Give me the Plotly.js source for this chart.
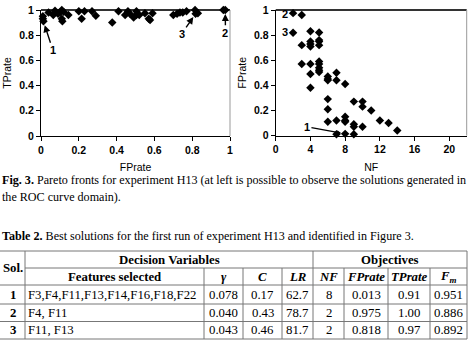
<!DOCTYPE html>
<html><head><meta charset="utf-8">
<script src="https://cdn.plot.ly/plotly-3.0.1.min.js"></script>
<style>html,body{margin:0;padding:0;background:#fff}#c{width:474px;height:361px}</style>
</head><body><div id="c"></div>
<script>
// ---- Data: left panel (ROC domain) ----
const fpLeft = [0.010,0.010,0.013,0.040,0.065,0.074,0.090,0.100,0.110,0.110,0.113,0.120,0.145,0.200,0.215,0.230,0.270,0.290,0.377,0.410,0.445,0.460,0.470,0.490,0.505,0.505,0.520,0.550,0.570,0.577,0.590,0.700,0.720,0.735,0.750,0.770,0.815,0.818,0.830,0.965,0.975];
const tpLeft = [0.950,0.930,0.910,0.980,0.960,0.995,0.970,0.980,1.000,0.930,0.910,0.985,0.960,0.990,0.930,0.990,0.990,0.955,0.900,0.990,0.960,0.990,0.970,0.940,0.990,0.960,0.960,0.975,0.930,0.920,0.975,0.960,0.970,0.980,0.980,0.990,1.000,0.970,0.975,1.000,1.000];
// ---- Data: right panel (NF vs FPrate) ----
const nfRight = [2,3,2,4,5,3,4,4,4,5,5,5,3,4,5,5,5,5,5,4,4,6,6,6,7,7,8,6,6,6,7,8,8,8,9,9,9,10,10,10,11,12,13,14,7,8,9];
const fpRight = [0.975,0.960,0.818,0.830,0.820,0.720,0.750,0.730,0.710,0.760,0.750,0.720,0.570,0.570,0.590,0.570,0.540,0.520,0.505,0.490,0.380,0.470,0.450,0.440,0.500,0.440,0.410,0.290,0.210,0.110,0.120,0.150,0.120,0.110,0.270,0.090,0.070,0.270,0.230,0.070,0.200,0.120,0.100,0.040,0.010,0.013,0.010];
// ---- Best solutions (Table 2) ----
const solIds   = ['1','2','3'];
const features = ['F3,F4,F11,F13,F14,F16,F18,F22','F4, F11','F11, F13'];
const gammaVals= [0.078,0.040,0.043];
const cVals    = [0.17,0.43,0.46];
const lrVals   = [62.7,78.7,81.7];
const nfVals   = [8,2,2];
const fprVals  = [0.013,0.975,0.818];
const tprVals  = [0.91,1.00,0.97];
const fmVals   = [0.951,0.886,0.892];
const groupHeaders = ['Decision Variables','Objectives'];
const colHeaders = ['Features selected','γ','C','LR','NF','FPrate','TPrate','F<sub>m</sub>'];

// ---- layout helpers ----
const W=474,H=361;
const px=x=>x/W, py=y=>1-y/H;
const SANS='Liberation Sans, Arial, sans-serif';
const SERIF='Liberation Serif, Times New Roman, serif';
const tickFont={family:SANS,size:10.5,color:'#000',weight:'bold'};
const titleFont={family:SANS,size:10.5,color:'#000'};
const lblFont={family:SANS,size:11,color:'#000',weight:'bold'};

const marker={symbol:'diamond',size:6.5,color:'#000'};
const traces=[
 {type:'scatter',mode:'markers',x:fpLeft,y:tpLeft,xaxis:'x',yaxis:'y',marker:marker,cliponaxis:false,hoverinfo:'skip'},
 {type:'scatter',mode:'markers',x:nfRight,y:fpRight,xaxis:'x2',yaxis:'y2',marker:marker,cliponaxis:false,hoverinfo:'skip'}
];

function axisBase(){return {showline:true,linecolor:'#000',linewidth:1,ticks:'outside',ticklen:4,tickcolor:'#000',
  tickfont:tickFont,showgrid:false,zeroline:false,fixedrange:true,automargin:false};}

const layout={
 width:W,height:H,margin:{l:0,r:0,t:0,b:0},paper_bgcolor:'#fff',plot_bgcolor:'#fff',showlegend:false,
 xaxis:Object.assign(axisBase(),{domain:[px(41),px(230)],range:[0,1],dtick:0.2,tick0:0,anchor:'y',
   title:{text:'FPrate',font:titleFont,standoff:9}}),
 yaxis:Object.assign(axisBase(),{domain:[py(136),py(10)],range:[0,1],dtick:0.2,tick0:0,anchor:'x',
   title:{text:'TPrate',font:titleFont,standoff:5}}),
 xaxis2:Object.assign(axisBase(),{domain:[px(275.7),px(466.7)],range:[0,22],dtick:4,tick0:0,anchor:'y2',
   title:{text:'NF',font:titleFont,standoff:9}}),
 yaxis2:Object.assign(axisBase(),{domain:[py(135.5),py(10)],range:[0,1],dtick:0.2,tick0:0,anchor:'x2',
   title:{text:'FPrate',font:titleFont,standoff:5}}),
 shapes:[],annotations:[]
};
// plot frames
[['x','y'],['x2','y2']].forEach(([a,b])=>{
 layout.shapes.push({type:'line',xref:a+' domain',yref:b+' domain',x0:0,x1:1,y0:1,y1:1,line:{color:'#333',width:2},layer:'below'});
 layout.shapes.push({type:'line',xref:a+' domain',yref:b+' domain',x0:1,x1:1,y0:0,y1:1,line:{color:'#999',width:1},layer:'below'});
});
// solution labels, left panel
const leftTails=[[0.063,0.68],[0.976,0.82],[0.744,0.81]];
for(let i=0;i<3;i++){
 layout.annotations.push({xref:'x',yref:'y',axref:'x',ayref:'y',x:fprVals[i],y:tprVals[i],ax:leftTails[i][0],ay:leftTails[i][1],
  text:solIds[i],font:lblFont,showarrow:true,arrowhead:2,arrowsize:1,arrowwidth:1.4,arrowcolor:'#000',standoff:4});
}
// solution labels, right panel
layout.annotations.push({xref:'x2',yref:'y2',axref:'x2',ayref:'y2',x:nfVals[0],y:fprVals[0],ax:3.6,ay:0.07,
  text:solIds[0],font:lblFont,showarrow:true,arrowhead:2,arrowsize:0.7,arrowwidth:1.2,arrowcolor:'#000',standoff:4});
layout.annotations.push({xref:'x2',yref:'y2',x:nfVals[1]-0.95,y:fprVals[1]-0.005,text:solIds[1],font:lblFont,showarrow:false});
layout.annotations.push({xref:'x2',yref:'y2',x:nfVals[2]-0.95,y:fprVals[2]+0.005,text:solIds[2],font:lblFont,showarrow:false});

// captions
const capFont={family:SERIF,size:12.1,color:'#000'};
function txt(x,y,t,f,xa){layout.annotations.push({xref:'paper',yref:'paper',x:px(x),y:py(y),text:t,font:f,showarrow:false,xanchor:xa||'left',yanchor:'middle'});}
txt(0,180,'<b>Fig. 3.</b> Pareto fronts for experiment H13 (at left is possible to observe the solutions generated in',capFont);
txt(0,197,'the ROC curve domain).',capFont);
txt(0,236,'<b>Table 2.</b> Best solutions for the first run of experiment H13 and identified in Figure 3.',capFont);

// table
const colX=[0,25,204,243,282,313,344,388,430,467];
const rowY=[251,268,285,304,321.5,339];
const tf={family:SERIF,size:12.8,color:'#000'};
const tl={color:'#777',width:1};
function hline(y,x0,x1){layout.shapes.push({type:'line',xref:'paper',yref:'paper',x0:px(x0),x1:px(x1),y0:py(y),y1:py(y),line:tl});}
function vline(x,y0,y1){layout.shapes.push({type:'line',xref:'paper',yref:'paper',x0:px(x),x1:px(x),y0:py(y0),y1:py(y1),line:tl});}
hline(rowY[0],colX[0],colX[9]);
hline(rowY[1],colX[1],colX[9]);
for(let r=2;r<rowY.length;r++) hline(rowY[r],colX[0],colX[9]);
[1,5,9].forEach(c=>vline(colX[c],rowY[0],rowY[5]));
[2,3,4,6,7,8].forEach(c=>vline(colX[c],rowY[1],rowY[5]));
const cx=c=>(colX[c]+colX[c+1])/2, cy=r=>(rowY[r]+rowY[r+1])/2;
txt((colX[0]+colX[1])/2,rowY[1],'<b>Sol.</b>',tf,'center');
txt((colX[1]+colX[5])/2,cy(0),'<b>'+groupHeaders[0]+'</b>',tf,'center');
txt((colX[5]+colX[9])/2,cy(0),'<b>'+groupHeaders[1]+'</b>',tf,'center');
colHeaders.forEach((h,i)=>{txt(cx(i+1),cy(1),i===0?'<b>'+h+'</b>':'<b><i>'+h+'</i></b>',tf,'center');});
for(let r=0;r<3;r++){
 const y=cy(r+2);
 txt(cx(0),y,'<b>'+solIds[r]+'</b>',tf,'center');
 txt(colX[1]+1,y,features[r],tf,'left');
 const vals=[gammaVals[r].toFixed(3),cVals[r].toFixed(2),lrVals[r].toFixed(1),String(nfVals[r]),fprVals[r].toFixed(3),tprVals[r].toFixed(2),fmVals[r].toFixed(3)];
 vals.forEach((v,i)=>txt(cx(i+2),y,v,tf,'center'));
}
Plotly.newPlot('c',traces,layout,{staticPlot:true,displayModeBar:false});
</script></body></html>
